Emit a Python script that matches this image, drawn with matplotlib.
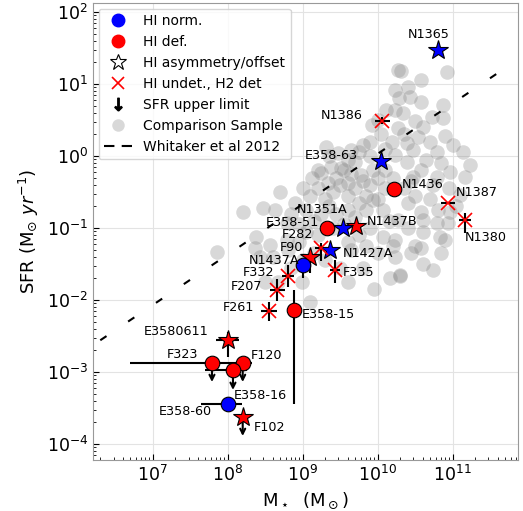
import numpy as np
import matplotlib
matplotlib.use('Agg')
import matplotlib.pyplot as plt
from matplotlib.lines import Line2D

# Fornax galaxies: log stellar mass, log SFR
names = ['N1365', 'N1386', 'E358-63', 'N1436', 'N1387', 'N1380', 'N1437B',
         'N1351A', 'E358-51', 'N1427A', 'F282', 'F90', 'N1437A', 'F335',
         'F332', 'F207', 'F261', 'E358-15', 'E3580611', 'F323', 'F120',
         'E358-16', 'E358-60', 'F102']
log_mstar = [10.80, 10.06, 10.05, 10.22, 10.94, 11.16, 9.71, 9.54, 9.32, 9.37,
             9.24, 9.10, 9.00, 9.43, 8.81, 8.66, 8.55, 8.88, 8.00, 7.79, 8.20,
             8.07, 8.00, 8.20]
log_sfr = [1.47, 0.49, -0.07, -0.46, -0.66, -0.89, -0.97, -1.00, -1.00, -1.31,
           -1.28, -1.40, -1.51, -1.58, -1.67, -1.86, -2.16, -2.14, -2.55, -2.87,
           -2.87, -2.98, -3.44, -3.62]
hi_class = ['norm', 'undet', 'norm', 'def', 'undet', 'undet', 'def', 'norm',
            'def', 'norm', 'undet', 'def', 'norm', 'undet', 'undet', 'undet',
            'undet', 'def', 'def', 'def', 'def', 'def', 'norm', 'def']
asym = [1, 0, 1, 0, 0, 0, 1, 1, 0, 1, 0, 1, 0, 0, 0, 0, 0, 0, 1, 0, 0, 0, 0, 1]
sfr_uplim = [0, 0, 0, 0, 0, 0, 0, 0, 0, 0, 0, 0, 0, 0, 0, 0, 0, 0, 0, 1, 1, 1, 0, 1]
# errors in dex (lower, upper)
mstar_err_lo = [0, 0.10, 0, 0, 0.09, 0.08, 0, 0, 0, 0, 0.08, 0, 0, 0.07, 0.08,
                0.10, 0.11, 0, 0.15, 1.10, 0.13, 0.37, 0.35, 0]
mstar_err_hi = [0, 0.10, 0, 0, 0.09, 0.08, 0, 0, 0, 0, 0.08, 0, 0, 0.07, 0.08,
                0.10, 0.11, 0, 0.15, 0.28, 0.13, 0.19, 0.19, 0]
sfr_err_lo = [0, 0.05, 0, 0, 0, 0.18, 0, 0, 0, 0, 0.18, 0.22, 0.18, 0.18, 0.15,
              0.15, 0.13, 1.30, 0.24, 0, 0, 0, 0, 0]
sfr_err_hi = [0, 0.05, 0, 0, 0, 0.10, 0, 0, 0, 0, 0.07, 0, 0, 0.14, 0.15,
              0.15, 0.13, 0.28, 0.10, 0, 0, 0, 0, 0]

# label offsets (points) and alignment
lab_dx = [-6.5, -13.7, -16.8, 5.5, 5.8, 0.2, 7.7, 3.2, -5.5, 8.6, -5.3, -5.3,
          -2.4, 5.8, -10.3, -10.5, -10.8, 5.5, -14, -10, 5.8, 0.4, -11.3, 7.6]
lab_dy = [11.5, 3.6, 3.8, 3, 7.9, -12.5, 3.4, 13.2, 4, -2.4, 9.9, 6.9, 3.0,
          -1.7, 2.5, 2.4, 3.2, -2.9, 5.5, 6, 4.8, -18, -5.8, -7.6]
lab_ha = ['center', 'right', 'right', 'left', 'left', 'left', 'left', 'right',
          'right', 'left', 'right', 'right', 'right', 'left', 'right', 'right',
          'right', 'left', 'right', 'right', 'left', 'left', 'right', 'left']

# comparison sample (log M*, log SFR)
comp_logm = [10.31, 10.93, 10.58, 10.40, 10.43, 10.58, 10.29, 10.87, 10.34, 10.50,
             10.73, 10.87, 10.54, 10.39, 10.90, 11.00, 10.79, 11.14, 11.23, 10.47,
             10.39, 10.58, 10.79, 10.96, 11.16, 10.47, 10.74,
             10.27, 10.23, 10.11, 10.00, 9.92, 10.23, 10.27, 10.19, 9.31, 9.47,
             9.64, 9.80, 9.70, 9.51, 9.38, 9.25, 9.12, 9.34, 9.60, 9.78, 9.94, 10.23,
             8.70, 8.47, 8.63, 8.20, 7.86, 8.38, 8.36, 8.57, 8.60, 8.79, 8.79, 8.43,
             8.67, 8.50,
             9.10, 8.99, 10.07, 10.23, 10.16, 10.30, 10.07, 9.94, 10.27, 10.23,
             10.58, 10.60, 10.79, 10.94, 10.60, 10.83, 10.90, 10.58, 10.74, 10.30,
             10.96, 11.10,
             9.00, 9.10, 9.20, 9.30, 9.40, 9.50, 9.60, 9.70, 9.80, 9.90, 10.00, 10.10,
             9.45, 9.55, 9.65, 9.35, 9.45, 9.60, 9.75, 9.85, 9.05, 9.15, 9.25, 8.95,
             8.90, 8.85, 9.05, 9.20, 9.40, 9.55, 9.70, 9.85, 10.00, 10.10, 10.20,
             10.35, 10.40, 10.50, 10.45, 10.15, 9.90, 9.75, 9.60, 8.95, 8.80, 9.15,
             9.30, 9.50, 9.65, 9.85, 10.00, 9.20, 9.35, 9.60, 9.75, 9.90, 10.05,
             9.90, 10.10, 10.35, 10.60, 10.70, 10.65, 10.85, 10.95, 11.05, 10.70,
             10.80, 10.40, 10.50, 10.20, 9.00, 8.85, 9.95, 9.60, 9.80, 10.45, 10.60,
             10.85]
comp_logsfr = [1.18, 1.17, 1.06, 0.96, 0.82, 0.75, 0.81, 0.71, 0.60, 0.49,
               0.54, 0.53, 0.26, 0.18, 0.28, 0.15, 0.06, 0.06, -0.13, 0.08,
               -0.08, -0.19, -0.29, -0.22, -0.29, -0.29, -0.40,
               1.19, 0.92, 0.64, 0.50, 0.43, 0.64, 0.39, 0.19, 0.13, 0.04,
               0.08, 0.15, -0.08, -0.17, -0.15, -0.24, -0.31, -0.38, -0.38, -0.26,
               -0.19, 0.01,
               -0.50, -0.72, -0.75, -0.78, -1.33, -1.13, -1.28, -1.24, -1.40, -1.17,
               -0.93, -1.40, -1.75, -1.75,
               -2.03, -1.75, -1.13, -1.17, -1.69, -1.67, -0.75, -0.61, -0.89, -1.40,
               -0.78, -0.89, -0.93, -0.93, -1.05, -1.13, -1.17, -1.28, -1.58, -1.65,
               -0.78, -0.54,
               -0.45, -0.55, -0.45, -0.60, -0.50, -0.40, -0.55, -0.45, -0.35, -0.40,
               -0.30, -0.20, -0.30, -0.20, -0.25, -0.70, -0.80, -0.75, -0.65, -0.55,
               -0.75, -0.90, -0.80, -0.95, -0.65, -0.80, -1.05, -1.10, -1.00, -0.95,
               -0.85, -0.75, -0.60, -0.45, -0.30, -0.45, -0.65, -0.55, -0.35, -0.90,
               -1.00, -1.10, -1.20, -1.20, -1.30, -1.35, -1.45, -1.55, -1.30, -1.25,
               -1.35, -0.20, 0.00, -0.05, 0.05, 0.20, 0.30, 0.00, 0.10, 0.30, 0.40,
               0.20, -0.05, -0.10, -0.45, -0.70, -0.60, -0.75, -1.00, -1.25, -1.25,
               -1.45, -1.55, -1.85, -1.75, -1.55, -1.35, -1.50, -1.35]

# Whitaker et al. (2012) main sequence at z=0
wk_alpha = 0.70
wk_beta = 0.38
wk_logm = np.array([6.3, 11.8])

class_color = {'norm': 'blue', 'def': 'red', 'undet': 'red'}

fig, ax = plt.subplots(figsize=(5.23, 5.11), dpi=100)
fig.subplots_adjust(left=0.178, right=0.990, bottom=0.100, top=0.994)

ax.set_xscale('log')
ax.set_yscale('log')

ax.plot(10**np.array(comp_logm), 10**np.array(comp_logsfr), 'o', color='grey',
        alpha=0.3, ms=10.5, mew=0, zorder=1)

wk_line, = ax.plot(10**wk_logm, 10**(wk_alpha * (wk_logm - 10.5) + wk_beta),
                   color='k', lw=1.5, zorder=2)
wk_line.set_dashes([3.6, 12.5])

for i, name in enumerate(names):
    m = 10**log_mstar[i]
    s = 10**log_sfr[i]
    xerr = [[m - m * 10**-mstar_err_lo[i]], [m * 10**mstar_err_hi[i] - m]]
    yerr = [[s - s * 10**-sfr_err_lo[i]], [s * 10**sfr_err_hi[i] - s]]
    if mstar_err_lo[i] or mstar_err_hi[i] or sfr_err_lo[i] or sfr_err_hi[i]:
        ax.errorbar(m, s, xerr=xerr, yerr=yerr, fmt='none', ecolor='k',
                    elinewidth=1.5, capsize=0, zorder=3)
    if sfr_uplim[i]:
        ax.annotate('', xy=(m, s * 10**-0.27), xytext=(m, s),
                    arrowprops=dict(arrowstyle='->', color='k', lw=1.5,
                                    mutation_scale=9, shrinkA=0, shrinkB=0),
                    zorder=3)
    col = class_color[hi_class[i]]
    if hi_class[i] == 'undet':
        ax.plot(m, s, 'x', color=col, ms=10, mew=1.2, zorder=5)
    elif asym[i]:
        ax.plot(m, s, '*', color=col, mec='k', mew=0.8, ms=15, zorder=5)
    else:
        ax.plot(m, s, 'o', color=col, mec='k', mew=0.8, ms=10.5, zorder=5)
    ax.annotate(name, (m, s), xytext=(lab_dx[i], lab_dy[i]),
                textcoords='offset points', ha=lab_ha[i], va='center',
                fontsize=9.2, zorder=6)

ax.set_xlim(1.6e6, 7.4e11)
ax.set_ylim(6.0e-5, 1.33e2)
ax.set_xticks([1e7, 1e8, 1e9, 1e10, 1e11])
ax.set_yticks([1e-4, 1e-3, 1e-2, 1e-1, 1e0, 1e1, 1e2])

ax.grid(True, which='major', color='#e3e3e3', lw=0.8)
ax.set_axisbelow(True)
ax.tick_params(which='both', direction='in', labelsize=12.5)
ax.tick_params(which='major', length=4)
ax.tick_params(which='minor', length=2)
for sp in ax.spines.values():
    sp.set_color('0.6')

ax.set_xlabel(r'M$_\star$  (M$_\odot$)', fontsize=13)
ax.set_ylabel(r'SFR (M$_{\odot}$ $yr^{-1}$)', fontsize=13)

handles = [
    Line2D([], [], ls='none', marker='o', color='blue', ms=9),
    Line2D([], [], ls='none', marker='o', color='red', ms=9),
    Line2D([], [], ls='none', marker='*', mfc='white', mec='k', mew=0.8, ms=12),
    Line2D([], [], ls='none', marker='x', color='red', ms=9, mew=1.2),
    Line2D([], [], ls='none', marker=r'$\downarrow$', color='k', ms=9),
    Line2D([], [], ls='none', marker='o', color='grey', alpha=0.3, ms=9, mew=0),
    Line2D([], [], color='k', lw=1.5, dashes=[5, 3.5]),
]
labels = ['HI norm.', 'HI def.', 'HI asymmetry/offset', 'HI undet., H2 det',
          'SFR upper limit', 'Comparison Sample', 'Whitaker et al 2012']
ax.legend(handles, labels, loc='upper left', fontsize=10, framealpha=0.8,
          borderaxespad=0.4)

fig.savefig('out.png', dpi=100)
